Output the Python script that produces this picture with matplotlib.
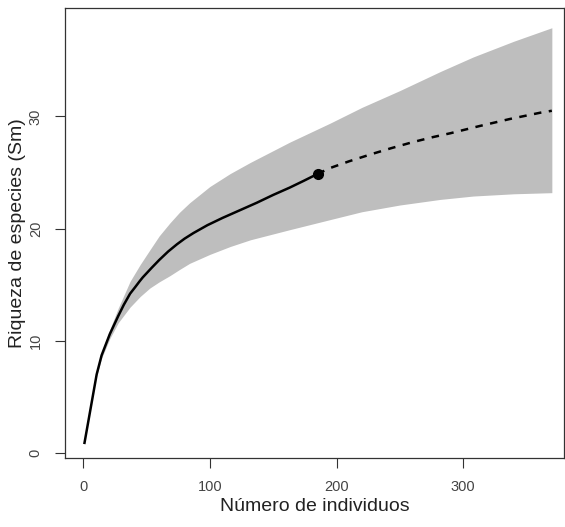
import matplotlib
matplotlib.use("Agg")
import matplotlib.pyplot as plt

# rarefaction (observed) part
obs_n = [1, 10.6, 14.5, 21, 27.6, 32, 37, 40.8, 44.5, 47, 54, 60, 67, 74, 80, 87,
         98, 110, 123, 137, 150, 163, 174, 185]
obs_s = [0.9, 7.0, 8.7, 10.6, 12.2, 13.2, 14.2, 14.75, 15.3, 15.65, 16.5, 17.2,
         17.95, 18.6, 19.1, 19.6, 20.3, 20.95, 21.6, 22.3, 23.0, 23.65, 24.25, 24.87]

# extrapolated part
ext_n = [185, 195, 210, 228, 243, 260, 276, 290, 313, 337, 361, 370]
ext_s = [24.87, 25.4, 26.0, 26.65, 27.16, 27.7, 28.15, 28.5, 29.14, 29.77, 30.33, 30.5]

# confidence band
band_n = [10.6, 14.5, 21, 27.6, 37, 45, 52.6, 60, 68.4, 76, 84, 100, 116, 132,
          163, 195, 220, 250, 282, 308, 340, 370]
band_hi = [7.05, 8.95, 11.0, 12.9, 15.3, 16.8, 18.1, 19.35, 20.5, 21.45, 22.3,
           23.75, 24.9, 25.9, 27.7, 29.4, 30.8, 32.3, 34.0, 35.3, 36.7, 37.9]
band_lo = [6.85, 8.45, 10.2, 11.6, 13.0, 13.95, 14.7, 15.25, 15.8, 16.35, 16.9,
           17.7, 18.4, 19.0, 19.9, 20.8, 21.5, 22.1, 22.6, 22.9, 23.1, 23.2]

plt.rcParams['font.family'] = ['Liberation Sans', 'DejaVu Sans']

fig = plt.figure(figsize=(5.65, 5.27), dpi=100)
ax = fig.add_axes([65 / 565, 1 - 458 / 527, 499 / 565, 450 / 527])

ax.fill_between(band_n, band_lo, band_hi, color='#bebebe', linewidth=0)
ax.plot(obs_n, obs_s, color='black', lw=1.8, solid_joinstyle='round')
ax.plot(ext_n, ext_s, color='black', lw=1.8, linestyle=(0, (3, 3)))
ax.plot([obs_n[-1]], [obs_s[-1]], 'o', color='black', markersize=7)

ax.set_xlim(-14.4, 379.6)
ax.set_ylim(-0.45, 39.66)
ax.set_xticks([0, 100, 200, 300])
ax.set_yticks([0, 10, 20, 30])
ax.tick_params(direction='out', length=7, width=0.8, colors='#333333',
               labelcolor='#444444', labelsize=10.5, pad=9)
for lab in ax.get_yticklabels():
    lab.set_rotation(90)
    lab.set_va('center')
for sp in ax.spines.values():
    sp.set_color('#333333')
    sp.set_linewidth(0.9)

ax.set_xlabel("Número de individuos", fontsize=14, labelpad=3, color='#222222')
ax.set_ylabel("Riqueza de especies (Sm)", fontsize=14, labelpad=2, color='#222222')

fig.savefig("out.png", dpi=100)
